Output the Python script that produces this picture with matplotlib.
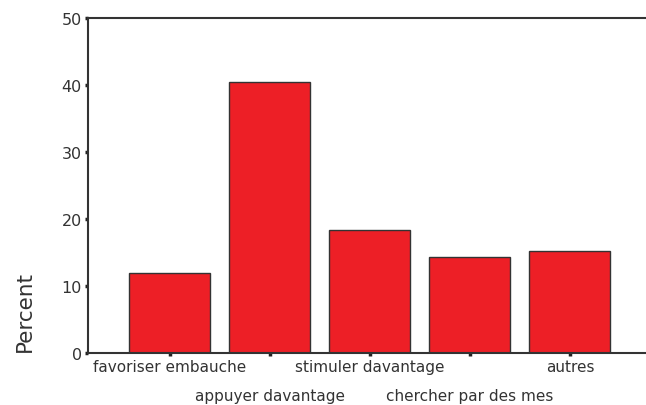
import matplotlib.pyplot as plt
import numpy as np

# data
categories = ['favoriser embauche', 'appuyer davantage', 'stimuler davantage',
              'chercher par des mes', 'autres']
percent = [11.9, 40.4, 18.4, 14.3, 15.2]
y_ticks = [0, 10, 20, 30, 40, 50]

text_color = '#333333'
line_color = '#333333'

fig = plt.figure(figsize=(6.46, 4.06), dpi=100)
ax = fig.add_axes([0.1362, 0.128, 0.8638, 0.825])

x = np.arange(len(categories))
ax.bar(x, percent, width=0.81, color='#ED1F26', edgecolor=line_color, linewidth=1.0)

ax.set_xlim(-0.82, 4.76)
ax.set_ylim(0, 50)
ax.set_yticks(y_ticks)
ax.set_xticks(x)
ax.set_xticklabels(categories, fontsize=11, color=text_color)

# stagger the category labels on two rows
for i, tick in enumerate(ax.xaxis.get_major_ticks()):
    tick.set_pad(1.5 if i % 2 == 0 else 22.5)

ax.tick_params(axis='both', direction='out', length=2.5, width=2.5, color='#222222')
ax.tick_params(axis='y', labelsize=11.5, labelcolor=text_color, pad=2)

for side in ['left', 'top', 'bottom']:
    ax.spines[side].set_color(line_color)
    ax.spines[side].set_linewidth(1.5)
ax.spines['right'].set_visible(False)

fig.text(25 / 646, 1 - 312 / 406, 'Percent', rotation=90, fontsize=15.5,
         color=text_color, ha='center', va='center')

plt.savefig('out.png', dpi=100)
